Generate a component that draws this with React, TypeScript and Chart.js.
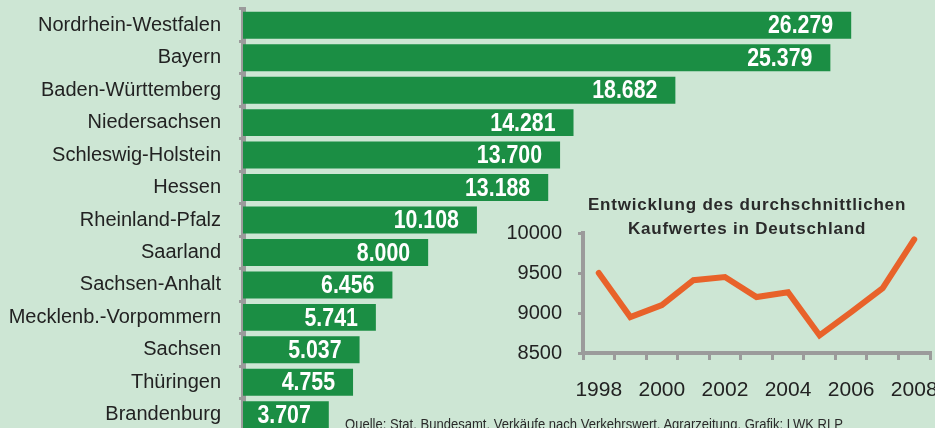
import React, { useEffect, useRef } from "react";
import { Chart, registerables } from "chart.js";

Chart.register(...registerables);

// ---------- data ----------
const states = [
  "Nordrhein-Westfalen",
  "Bayern",
  "Baden-Württemberg",
  "Niedersachsen",
  "Schleswig-Holstein",
  "Hessen",
  "Rheinland-Pfalz",
  "Saarland",
  "Sachsen-Anhalt",
  "Mecklenb.-Vorpommern",
  "Sachsen",
  "Thüringen",
  "Brandenburg",
];
const stateValues = [26279, 25379, 18682, 14281, 13700, 13188, 10108, 8000, 6456, 5741, 5037, 4755, 3707];

const years = ["1998", "1999", "2000", "2001", "2002", "2003", "2004", "2005", "2006", "2007", "2008"];
const priceValues = [9500, 8950, 9100, 9410, 9450, 9200, 9260, 8720, 9010, 9310, 9920];
const priceMin = 8500;
const priceMax = 10000;
const priceStep = 500;

const insetTitle = ["Entwicklung des durchschnittlichen", "Kaufwertes in Deutschland"];
const sourceText = "Quelle: Stat. Bundesamt, Verkäufe nach Verkehrswert, Agrarzeitung, Grafik: LWK RLP";

// ---------- style ----------
const BG = "#cde6d4";
const GREEN = "#1b8e44";
const ORANGE = "#e8622a";
const GRAY = "#9b9b9b";
const TEXT = "#222222";
const SANS = '"Liberation Sans", Arial, sans-serif';

const fmt = (v: number) => (v / 1000).toFixed(3);

const barValuePlugin = {
  id: "barValues",
  afterDatasetsDraw(chart: any) {
    const ctx = chart.ctx;
    const meta = chart.getDatasetMeta(0);
    meta.data.forEach((bar: any, i: number) => {
      ctx.save();
      ctx.translate(bar.x - 18, bar.y + 1);
      ctx.scale(0.82, 1);
      ctx.font = "bold 26px " + SANS;
      ctx.fillStyle = "#ffffff";
      ctx.textAlign = "right";
      ctx.textBaseline = "middle";
      ctx.fillText(fmt(stateValues[i]), 0, 0);
      ctx.restore();
    });
  },
};

const insetTitlePlugin = {
  id: "insetTitle",
  afterDraw(chart: any) {
    const ctx = chart.ctx;
    ctx.save();
    ctx.font = "bold 17px " + SANS;
    ctx.fillStyle = "#2a2a2a";
    ctx.textAlign = "center";
    ctx.textBaseline = "middle";
    try {
      (ctx as any).letterSpacing = "0.8px";
    } catch (e) {}
    ctx.fillText(insetTitle[0], 267, 25);
    ctx.fillText(insetTitle[1], 267, 49);
    ctx.restore();
  },
};

const noAutoPadding = (s: any) => {
  s.paddingTop = 0;
  s.paddingBottom = 0;
  s.paddingLeft = 0;
  s.paddingRight = 0;
};

export default function App() {
  const barRef = useRef<HTMLCanvasElement>(null);
  const lineRef = useRef<HTMLCanvasElement>(null);

  useEffect(() => {
    const barChart = new Chart(barRef.current as HTMLCanvasElement, {
      type: "bar",
      data: {
        labels: states,
        datasets: [
          {
            data: stateValues,
            backgroundColor: GREEN,
            barPercentage: 0.83,
            categoryPercentage: 1,
          },
        ],
      },
      options: {
        indexAxis: "y",
        animation: false,
        responsive: false,
        maintainAspectRatio: false,
        layout: { padding: { top: 9, right: 0, bottom: 0, left: 0 } },
        plugins: { legend: { display: false }, tooltip: { enabled: false } },
        scales: {
          x: { display: false, min: 0, max: 29900 },
          y: {
            afterFit: (s: any) => {
              s.width = 243;
              noAutoPadding(s);
            },
            border: { color: GRAY, width: 5 },
            grid: {
              offset: true,
              drawOnChartArea: false,
              drawTicks: true,
              tickLength: 4,
              color: GRAY,
              lineWidth: 3,
            },
            ticks: { padding: 18, color: TEXT, font: { family: SANS, size: 20 } },
          },
        },
      },
      plugins: [barValuePlugin],
    } as any);

    const lineChart = new Chart(lineRef.current as HTMLCanvasElement, {
      type: "line",
      data: {
        labels: years,
        datasets: [
          {
            data: priceValues,
            borderColor: ORANGE,
            borderWidth: 6,
            pointRadius: 0,
            tension: 0,
            borderCapStyle: "round",
            borderJoinStyle: "miter",
            fill: false,
          },
        ],
      },
      options: {
        animation: false,
        responsive: false,
        maintainAspectRatio: false,
        layout: { padding: { top: 53, right: 5, bottom: 0, left: 0 } },
        plugins: { legend: { display: false }, tooltip: { enabled: false } },
        scales: {
          x: {
            offset: true,
            afterFit: (s: any) => {
              s.height = 75;
              noAutoPadding(s);
            },
            border: { color: GRAY, width: 4 },
            grid: {
              offset: true,
              drawOnChartArea: false,
              drawTicks: true,
              tickLength: 7,
              color: GRAY,
              lineWidth: 3,
            },
            ticks: {
              autoSkip: false,
              maxRotation: 0,
              padding: 18,
              color: TEXT,
              font: { family: SANS, size: 21 },
              callback: (_v: any, i: number) => (i % 2 === 0 ? years[i] : ""),
            },
          },
          y: {
            min: priceMin,
            max: priceMax,
            afterFit: (s: any) => {
              s.width = 103;
              noAutoPadding(s);
            },
            border: { color: GRAY, width: 4 },
            grid: {
              drawOnChartArea: false,
              drawTicks: true,
              tickLength: 5,
              color: GRAY,
              lineWidth: 3,
            },
            ticks: {
              stepSize: priceStep,
              padding: 16,
              color: TEXT,
              font: { family: SANS, size: 20 },
              callback: (v: any) => String(v),
            },
          },
        },
      },
      plugins: [insetTitlePlugin],
    } as any);

    return () => {
      barChart.destroy();
      lineChart.destroy();
    };
  }, []);

  return (
    <div
      style={{
        position: "fixed",
        left: 0,
        top: 0,
        width: 935,
        height: 428,
        overflow: "hidden",
        background: BG,
      }}
    >
      <canvas
        ref={barRef}
        width={935}
        height={431}
        style={{ position: "absolute", left: 0, top: 0, width: 935, height: 431 }}
      />
      <canvas
        ref={lineRef}
        width={455}
        height={248}
        style={{ position: "absolute", left: 480, top: 180, width: 455, height: 248 }}
      />
      <svg
        width={935}
        height={428}
        style={{ position: "absolute", left: 0, top: 0, pointerEvents: "none" }}
      >
        <text
          x={345}
          y={429}
          textLength={498}
          lengthAdjust="spacingAndGlyphs"
          fontFamily={SANS}
          fontSize={15}
          fill="#2a2a2a"
        >
          {sourceText}
        </text>
      </svg>
    </div>
  );
}
